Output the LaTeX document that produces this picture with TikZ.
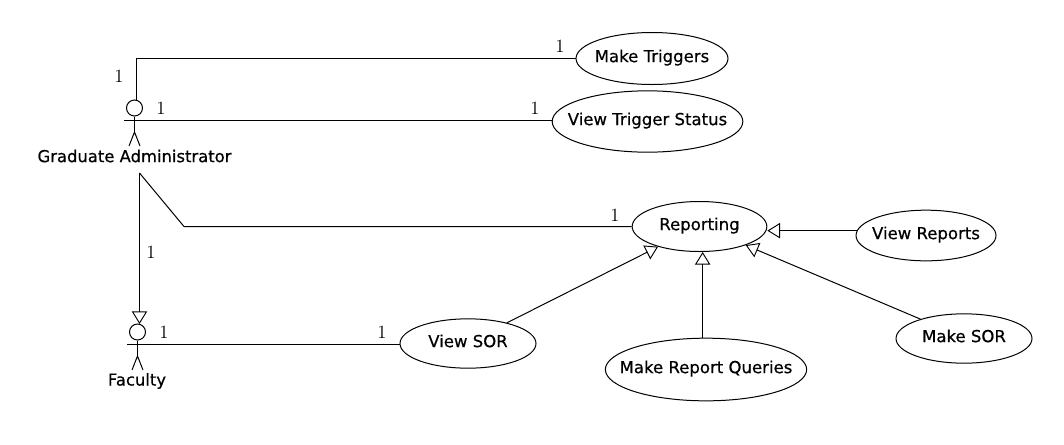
\documentclass[tikz,border=0pt]{standalone}
\usepackage{fontspec}
\setmainfont{DejaVu Sans}
\newfontfamily\labelfont[FakeBold=0.5]{DejaVu Sans}
\newfontfamily\numfont{Latin Modern Roman}
\usetikzlibrary{positioning,shapes.geometric,arrows.meta}
\newcommand{\uctext}[1]{\raisebox{4pt}{\makebox[0pt]{#1}}}

\begin{document}
\begin{tikzpicture}[
		x=0.75pt, y=-0.75pt,
		line width=0.75pt,
		usecase/.style={ellipse, draw=black, fill=white, line width=0.75pt, inner sep=0pt, font=\labelfont\fontsize{12.4}{14}\selectfont},
		head/.style={circle, draw=black, inner sep=0pt, minimum size=12pt},
		actorname/.style={inner sep=0pt, font=\labelfont\fontsize{12.3}{14}\selectfont},
		mult/.style={inner sep=0pt, font=\numfont\fontsize{14}{14}\selectfont},
		assoc/.style={draw=black},
		general/.style={draw=black, -{Triangle[open, length=9.5pt, width=11.5pt, line width=0.7pt]}},
		]
		\useasboundingbox (0,0) rectangle (1064,444);

		%Use cases
		\node[usecase, minimum width=114pt, minimum height=39pt]	(triggers)	at (652,58.5)		{\uctext{Make Triggers}};
		\node[usecase, minimum width=143pt, minimum height=46pt]	(status)	at (647.5,121.5)	{\uctext{View Trigger Status}};
		\node[usecase, minimum width=101pt, minimum height=37.5pt]	(reporting)	at (699.5,226.5)	{\uctext{Reporting}};
		\node[usecase, minimum width=105pt, minimum height=38pt]	(reports)	at (926,235.5)		{\uctext{View Reports}};
		\node[usecase, minimum width=102pt, minimum height=37pt]	(makesor)	at (964,338.5)		{\uctext{Make SOR}};
		\node[usecase, minimum width=151pt, minimum height=47pt]	(queries)	at (706,369.5)		{\uctext{Make Report Queries}};
		\node[usecase, minimum width=102pt, minimum height=37pt]	(viewsor)	at (468,343.5)		{\uctext{View SOR}};

		%Graduate Administrator
		\node[head]	(admin)	at (134.5,108)	{};
		\coordinate	(admin_arm)		at (124,120.5);
		\coordinate	(admin_body)	at (134.5,132);
		\coordinate	(admin_left)	at (129,146);
		\coordinate	(admin_right)	at (140,146);
		\draw[assoc]	(admin.south)	--	(admin_body);
		\draw[assoc]	(admin_left)	--	(admin_body)	--	(admin_right);
		\node[actorname]	(admin_name)	at (134.5,156)	{Graduate Administrator};

		%Faculty
		\node[head]	(faculty)	at (137.5,332)	{};
		\coordinate	(faculty_arm)	at (127,344.5);
		\coordinate	(faculty_body)	at (137.5,356);
		\coordinate	(faculty_left)	at (132,370);
		\coordinate	(faculty_right)	at (143,370);
		\draw[assoc]	(faculty.south)	--	(faculty_body);
		\draw[assoc]	(faculty_left)	--	(faculty_body)	--	(faculty_right);
		\node[actorname]	(faculty_name)	at (137,381)	{Faculty};

		%Associations
		\coordinate	(corner_top)	at (136.5,58.5);
		\coordinate	(corner_start)	at (139.5,173);
		\coordinate	(corner_mid)	at (184,226.5);
		\coordinate	(faculty_tip)	at (139.5,324);
		\draw[assoc]	(corner_top |- admin.north)	--	(corner_top)	--	(triggers.west);
		\draw[assoc]	(admin_arm)	--	(admin_arm -| status.179.4);
		\draw[assoc]	(corner_start)	--	(corner_mid)	--	(reporting.west);
		\draw[general]	(corner_start)	--	(faculty_tip);
		\draw[assoc]	(faculty_arm)	--	(faculty_arm -| viewsor.179.2);

		%Generalizations
		\draw[general]	(reports.176.7)	--	(reports.176.7 -| reporting.east);
		\draw[general]	(queries.96.3)	--	(queries.96.3 |- reporting.-83.2);
		\draw[general]	(viewsor.28.3)	--	(reporting.206.8);
		\draw[general]	(makesor.156.6)	--	(reporting.-22.1);

		%Multiplicities
		\node[mult]	(m1)	at (119,76)		{1};
		\node[mult]	(m2)	at (161,108)	{1};
		\node[mult]	(m3)	at (560,46)		{1};
		\node[mult]	(m4)	at (535,108)	{1};
		\node[mult]	(m5)	at (151,252)	{1};
		\node[mult]	(m6)	at (164,332)	{1};
		\node[mult]	(m7)	at (615,215)	{1};
		\node[mult]	(m8)	at (382,332)	{1};
	\end{tikzpicture}
\end{document}
